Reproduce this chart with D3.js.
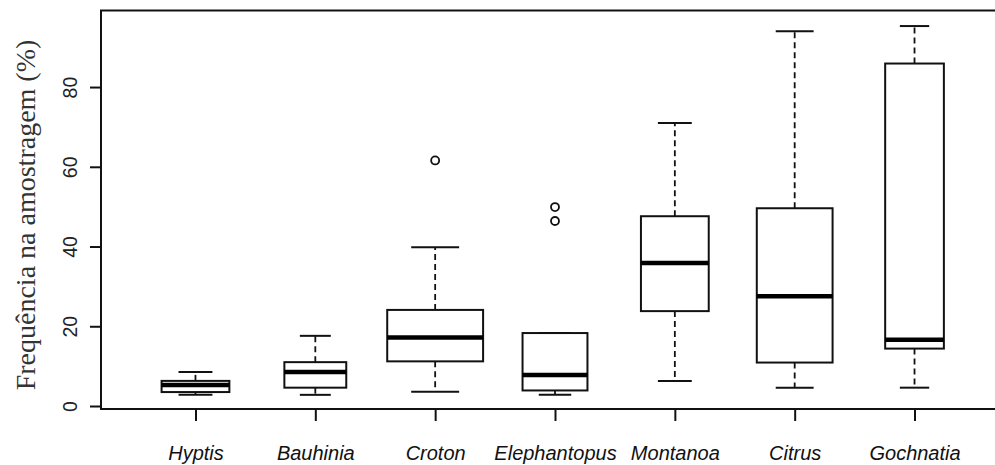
<!DOCTYPE html>
<html>
<head>
<meta charset="utf-8">
<script src="https://cdn.jsdelivr.net/npm/d3@7"></script>
<style>
  html, body { margin: 0; padding: 0; background: #fff; }
  svg { display: block; }
</style>
</head>
<body>
<svg id="chart" width="995" height="465"></svg>
<script>
// ---- data ----
const categories = ["Hyptis", "Bauhinia", "Croton", "Elephantopus", "Montanoa", "Citrus", "Gochnatia"];
const whiskerLow  = [2.8, 2.8, 3.6, 2.8, 6.3, 4.6, 4.6];
const q1          = [3.5, 4.6, 11.2, 3.9, 23.8, 10.9, 14.4];
const medians     = [5.3, 8.5, 17.2, 7.8, 35.9, 27.5, 16.6];
const q3          = [6.3, 11.0, 24.1, 18.3, 47.6, 49.6, 85.9];
const whiskerHigh = [8.5, 17.6, 39.8, 18.3, 71.0, 94.0, 95.3];
const outliers    = [[], [], [61.6], [49.9, 46.4], [], [], []];
const sampleSizes = [12, 10, 24, 11, 12, 15, 9];
const yTicks      = [0, 20, 40, 60, 80];
const yLabel      = "Frequência na amostragem (%)";

// ---- layout ----
const svg = d3.select("#chart");
const pLeft = 101, pTop = 10.5, pBottom = 409;
const x = d3.scaleLinear().domain([0.22, 7.78]).range([102, 1008]);
const y = d3.scaleLinear().domain([-0.75, 99.2]).range([pBottom, pTop]);
const pRight = x(7.78);
const unit = x(1) - x(0);
const maxSqrt = d3.max(sampleSizes, n => Math.sqrt(n));
const boxW = i => 0.8 * unit * Math.sqrt(sampleSizes[i]) / maxSqrt;

const data = categories.map((c, i) => ({
  c, i, lo: whiskerLow[i], q1: q1[i], med: medians[i], q3: q3[i], hi: whiskerHigh[i], out: outliers[i]
}));

const g = svg.append("g");

// whiskers (dashed)
g.selectAll("line.wu").data(data).join("line")
  .attr("x1", d => x(d.i + 1)).attr("x2", d => x(d.i + 1))
  .attr("y1", d => y(d.q3)).attr("y2", d => y(d.hi))
  .attr("stroke", "#111").attr("stroke-width", 1.8).attr("stroke-dasharray", "6,4");
g.selectAll("line.wl").data(data).join("line")
  .attr("x1", d => x(d.i + 1)).attr("x2", d => x(d.i + 1))
  .attr("y1", d => y(d.q1)).attr("y2", d => y(d.lo))
  .attr("stroke", "#111").attr("stroke-width", 1.8).attr("stroke-dasharray", "6,4");

// staples
["hi", "lo"].forEach(k => {
  g.selectAll("line.s" + k).data(data).join("line")
    .attr("x1", d => x(d.i + 1) - boxW(d.i) / 4).attr("x2", d => x(d.i + 1) + boxW(d.i) / 4)
    .attr("y1", d => y(d[k])).attr("y2", d => y(d[k]))
    .attr("stroke", "#111").attr("stroke-width", 2);
});

// boxes
g.selectAll("rect.box").data(data).join("rect")
  .attr("x", d => x(d.i + 1) - boxW(d.i) / 2)
  .attr("width", d => boxW(d.i))
  .attr("y", d => y(d.q3))
  .attr("height", d => y(d.q1) - y(d.q3))
  .attr("fill", "#fff").attr("stroke", "#111").attr("stroke-width", 2);

// medians
g.selectAll("line.med").data(data).join("line")
  .attr("x1", d => x(d.i + 1) - boxW(d.i) / 2).attr("x2", d => x(d.i + 1) + boxW(d.i) / 2)
  .attr("y1", d => y(d.med)).attr("y2", d => y(d.med))
  .attr("stroke", "#000").attr("stroke-width", 4.5);

// outliers
const outPts = data.flatMap(d => d.out.map(v => ({ i: d.i, v })));
g.selectAll("circle.out").data(outPts).join("circle")
  .attr("cx", d => x(d.i + 1)).attr("cy", d => y(d.v))
  .attr("r", 4).attr("fill", "#fff").attr("stroke", "#111").attr("stroke-width", 1.8);

// frame
svg.append("path")
  .attr("d", `M${pRight},${pTop}H${pLeft}V${pBottom}H${pRight}`)
  .attr("fill", "none").attr("stroke", "#111").attr("stroke-width", 2);

// y axis
const yAxis = svg.append("g").attr("transform", `translate(${pLeft},0)`)
  .call(d3.axisLeft(y).tickValues(yTicks).tickSize(11).tickSizeOuter(0).tickFormat(d3.format("d")));
yAxis.select(".domain").remove();
yAxis.selectAll(".tick line").attr("stroke", "#111").attr("stroke-width", 2);
yAxis.selectAll(".tick text")
  .attr("x", null).attr("dy", null)
  .attr("transform", "translate(-24,0) rotate(-90)")
  .attr("text-anchor", "middle")
  .attr("font-family", "'Liberation Sans', Arial, sans-serif")
  .attr("font-size", 19.5).attr("fill", "#222");

// x axis
const xAxis = svg.append("g").attr("transform", `translate(0,${pBottom})`)
  .call(d3.axisBottom(x).tickValues(categories.map((c, i) => i + 1)).tickSize(12).tickSizeOuter(0)
    .tickFormat(v => categories[v - 1]));
xAxis.select(".domain").remove();
xAxis.selectAll(".tick line").attr("stroke", "#111").attr("stroke-width", 2);
xAxis.selectAll(".tick text")
  .attr("y", 51).attr("dy", null)
  .attr("font-family", "'Liberation Sans', Arial, sans-serif")
  .attr("font-style", "italic")
  .attr("font-size", 20).attr("fill", "#111");

// y label
svg.append("text")
  .attr("transform", `translate(35,215) rotate(-90)`)
  .attr("text-anchor", "middle")
  .attr("font-family", "'Liberation Serif', 'Times New Roman', serif")
  .attr("font-size", 28).attr("fill", "#333")
  .text(yLabel);
</script>
</body>
</html>
